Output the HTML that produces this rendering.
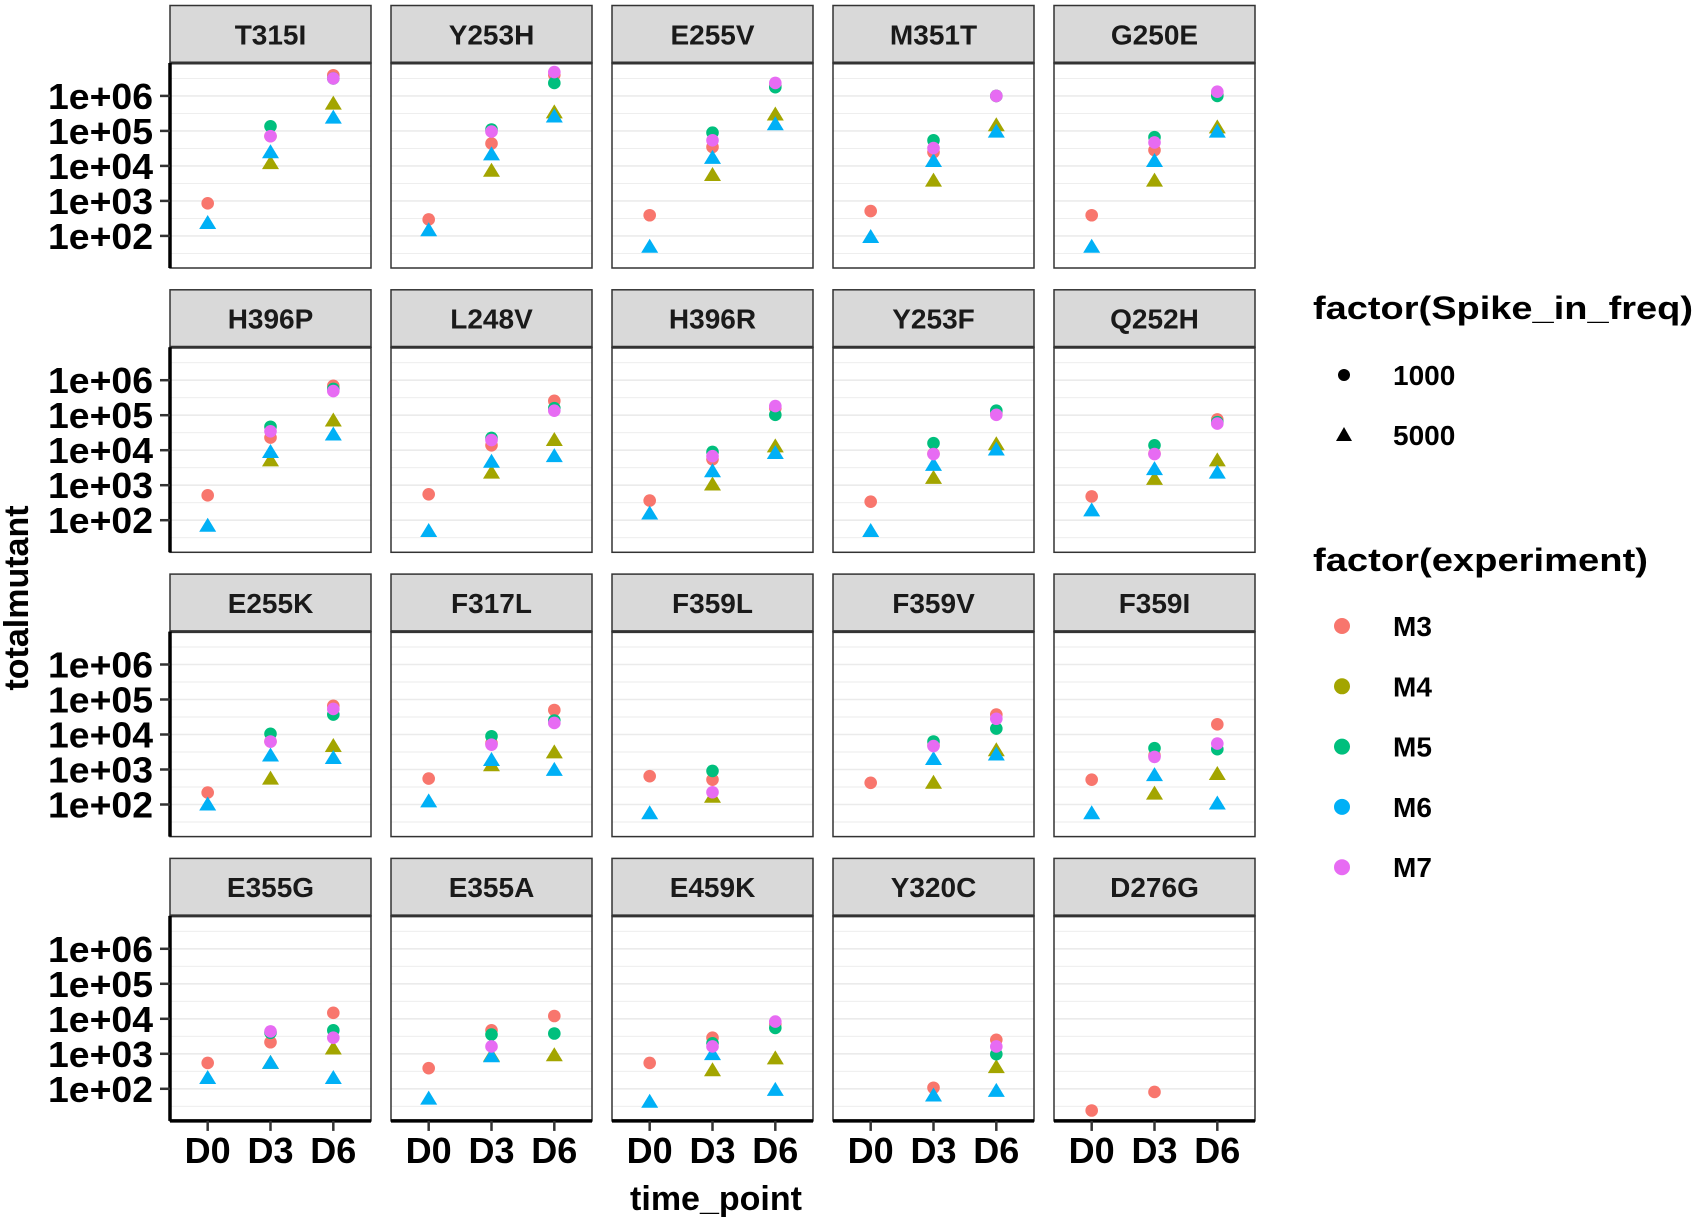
<!DOCTYPE html>
<html><head><meta charset="utf-8"><style>
html,body{margin:0;padding:0;background:#fff;}
svg{display:block;font-family:"Liberation Sans",Arial,sans-serif;}
</style></head><body>
<svg id="chart" width="1702" height="1228" viewBox="0 0 1702 1228"></svg>
<script>
// Data: log10(totalmutant) per panel, time points [D0, D3, D6]
const panels = ["T315I","Y253H","E255V","M351T","G250E","H396P","L248V","H396R","Y253F","Q252H","E255K","F317L","F359L","F359V","F359I","E355G","E355A","E459K","Y320C","D276G"];
const timePoints = ["D0","D3","D6"];
const yTickValues = [2,3,4,5,6];
const yTickLabels = ["1e+02","1e+03","1e+04","1e+05","1e+06"];
const experiments = ["M3","M4","M5","M6","M7"];
const m3Log = [[2.93,4.85,6.59],[2.47,4.64,6.6],[2.59,4.54,6.3],[2.71,4.39,6.0],[2.59,4.45,6.05],[2.71,4.36,5.84],[2.74,4.14,5.41],[2.56,3.74,5.2],[2.53,3.9,5.05],[2.68,3.9,4.88],[2.34,3.8,4.82],[2.74,3.75,4.7],[2.81,2.71,null],[2.62,3.7,4.57],[2.71,3.4,4.29],[2.74,3.33,4.17],[2.59,3.67,4.08],[2.74,3.46,3.85],[null,2.03,3.4],[1.38,1.91,null]];
const m4Log = [[null,4.08,5.78],[null,3.86,5.53],[null,3.74,5.47],[null,3.58,5.16],[null,3.58,5.1],[null,3.71,4.85],[null,3.36,4.29],[null,3.02,4.11],[null,3.21,4.17],[null,3.18,3.71],[null,2.74,3.67],[null,3.12,3.49],[null,2.22,null],[null,2.62,3.55],[null,2.31,2.87],[null,2.74,3.15],[null,2.95,2.96],[null,2.53,2.87],[null,null,2.62],[null,null,null]];
const m5Log = [[null,5.13,6.5],[null,5.04,6.37],[null,4.95,6.25],[null,4.73,6.0],[null,4.82,6.0],[null,4.67,5.75],[null,4.35,5.2],[null,3.95,5.01],[null,4.2,5.13],[null,4.14,4.8],[null,4.02,4.57],[null,3.95,4.4],[null,2.96,null],[null,3.8,4.17],[null,3.61,3.58],[null,3.6,3.67],[null,3.55,3.58],[null,3.3,3.74],[null,null,2.99],[null,null,null]];
const m6Log = [[2.37,4.39,5.38],[2.16,4.33,5.41],[1.69,4.23,5.19],[1.97,4.14,4.98],[1.69,4.14,4.98],[1.84,3.95,4.45],[1.69,3.67,3.83],[2.19,3.4,3.92],[1.69,3.58,4.02],[2.28,3.46,3.36],[2.0,3.4,3.33],[2.09,3.27,2.99],[1.75,null,null],[null,3.3,3.43],[1.75,2.84,2.03],[2.31,2.74,2.31],[1.72,2.93,null],[1.63,2.99,1.97],[null,1.81,1.94],[null,null,null]];
const m7Log = [[null,4.85,6.5],[null,4.98,6.68],[null,4.73,6.37],[null,4.51,6.0],[null,4.67,6.12],[null,4.54,5.69],[null,4.29,5.13],[null,3.83,5.26],[null,3.89,5.01],[null,3.89,4.76],[null,3.8,4.73],[null,3.71,4.33],[null,2.35,null],[null,3.67,4.45],[null,3.36,3.74],[null,3.64,3.46],[null,3.21,null],[null,3.21,3.92],[null,null,3.21],[null,null,null]];

const seriesData = [m3Log,m4Log,m5Log,m6Log,m7Log];
const colors = ["#F8766D","#A3A500","#00BF7D","#00B0F6","#E76BF3"];
const shapes = ["circle","triangle","circle","triangle","circle"];

const NS="http://www.w3.org/2000/svg";
const svg=document.getElementById("chart");
function mk(tag,attrs,parent){const e=document.createElementNS(NS,tag);for(const k in attrs)e.setAttribute(k,attrs[k]);(parent||svg).appendChild(e);return e;}

const colLeft=170, colPitch=221, panelW=201, rowTop0=5.5, rowPitch=284.3, stripH=57.5, plotH=205;
const vTop=6.94, pxPerDec=35;
function xScale(c,i){const l=colLeft+c*colPitch;return l+panelW*(0.1875+i*0.3125);}
function yScale(r,v){return rowTop0+r*rowPitch+stripH+(vTop-v)*pxPerDec;}

panels.forEach((name,p)=>{
  const r=Math.floor(p/5), c=p%5;
  const L=colLeft+c*colPitch, T=rowTop0+r*rowPitch, PT=T+stripH, PB=PT+plotH;
  const g=mk("g",{});
  
  
  mk("rect",{x:L,y:PT,width:panelW,height:plotH,fill:"#fff"},g);
  for(let v=1.5;v<=7;v+=0.5){const y=yScale(r,v);if(y<PT+1||y>PB-1)continue;
    const gl=mk("line",{x1:L,x2:L+panelW,y1:y,y2:y,stroke:"#ebebeb","stroke-width":Number.isInteger(v)?1.6:0.9},g);
    
    }
  seriesData.forEach((ser,s)=>{
    ser[p].forEach((v,i)=>{
      if(v===null)return;
      const x=xScale(c,i), y=yScale(r,v);
      let el;
      if(shapes[s]==="circle") el=mk("circle",{cx:x,cy:y,r:6.3,fill:colors[s]},g);
      else el=mk("polygon",{points:`${x},${y-8} ${x-8.5},${y+6} ${x+8.5},${y+6}`,fill:colors[s]},g);
      
      
    });
  });
  const br=mk("rect",{x:L,y:PT,width:panelW,height:plotH,fill:"none",stroke:"#333","stroke-width":1.5},g);
  
  
  const st=mk("rect",{x:L,y:T,width:panelW,height:stripH,fill:"#d9d9d9",stroke:"#333","stroke-width":1.5},g);
  
  
  mk("line",{x1:L,x2:L+panelW,y1:PT,y2:PT,stroke:"#333","stroke-width":3},g);
  const tx=mk("text",{x:L+panelW/2,y:T+stripH/2+10,"text-anchor":"middle","font-size":28,"font-weight":"bold",fill:"#1a1a1a"},g);
  tx.textContent=name;
  
  
  if(c===0){
    const ax=mk("line",{x1:L,x2:L,y1:PT,y2:PB,stroke:"#000","stroke-width":3.5},g);
    
    
    yTickValues.forEach((v,k)=>{const y=yScale(r,v);
      mk("line",{x1:L-10,x2:L,y1:y,y2:y,stroke:"#333","stroke-width":2.5},g);
      const t=mk("text",{x:L-17,y:y+13,"text-anchor":"end","font-size":36,"font-weight":"bold",fill:"#000",textLength:105,lengthAdjust:"spacingAndGlyphs"},g);
      t.textContent=yTickLabels[k];
      
      });
  }
  if(r===3){
    const ax=mk("line",{x1:L,x2:L+panelW,y1:PB,y2:PB,stroke:"#000","stroke-width":3.5},g);
    
    
    timePoints.forEach((tp,i)=>{const x=xScale(c,i);
      mk("line",{x1:x,x2:x,y1:PB,y2:PB+10,stroke:"#333","stroke-width":2.5},g);
      const t=mk("text",{x:x,y:PB+42,"text-anchor":"middle","font-size":36,"font-weight":"bold",fill:"#000"},g);
      t.textContent=tp;
      
      });
  }
});

const yt=mk("text",{x:0,y:0,transform:"translate(28,598) rotate(-90)","text-anchor":"middle","font-size":34,"font-weight":"bold"});
yt.textContent="totalmutant";


const xt=mk("text",{x:716,y:1210,"text-anchor":"middle","font-size":34,"font-weight":"bold"});
xt.textContent="time_point";



const lg=mk("g",{});


const t1=mk("text",{x:1313,y:319,"font-size":32,"font-weight":"bold",textLength:380,lengthAdjust:"spacingAndGlyphs"},lg);
t1.textContent="factor(Spike_in_freq)";


const spikeLabels=["1000","5000"];
spikeLabels.forEach((lab,k)=>{const y=375+k*60;
  let m;
  if(k===0) m=mk("circle",{cx:1344,cy:y,r:6,fill:"#000"},lg);
  else m=mk("polygon",{points:`1344,${y-8} 1336,${y+6} 1352,${y+6}`,fill:"#000"},lg);
  
  
  const t=mk("text",{x:1393,y:y+10,"font-size":28,"font-weight":"bold"},lg);
  t.textContent=lab;
  
  });
const t2=mk("text",{x:1313,y:571,"font-size":32,"font-weight":"bold",textLength:335,lengthAdjust:"spacingAndGlyphs"},lg);
t2.textContent="factor(experiment)";


experiments.forEach((lab,k)=>{const y=626+k*60.3;
  const m=mk("circle",{cx:1342,cy:y,r:8,fill:colors[k]},lg);
  
  
  const t=mk("text",{x:1393,y:y+10,"font-size":28,"font-weight":"bold"},lg);
  t.textContent=lab;
  
  });
</script>
</body></html>
